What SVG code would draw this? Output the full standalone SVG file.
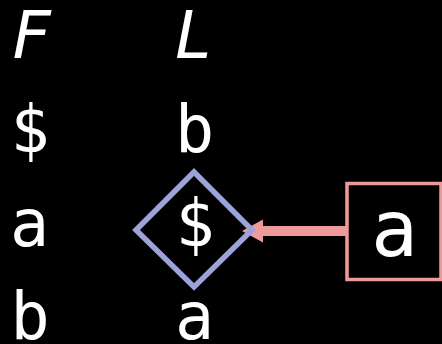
<svg xmlns="http://www.w3.org/2000/svg" width="442" height="344" viewBox="0 0 442 344">
<style>
.t{font-family:"DejaVu Sans Mono",monospace;font-size:65px;fill:#ffffff;text-anchor:middle}
.i{font-style:italic}
</style>
<rect x="0" y="0" width="442" height="344" fill="#000000"/>
<g id="labels">
<text class="t i" x="31" y="58">F</text>
<text class="t i" x="194" y="58">L</text>
<text class="t" x="30" y="152">$</text>
<text class="t" x="194.5" y="152">b</text>
<text class="t" x="29.5" y="245.5">a</text>
<text class="t" x="30" y="339">b</text>
<text class="t" x="194.5" y="339">a</text>
</g>
<g id="connectors">
<line x1="347" y1="231" x2="262" y2="231" stroke="#ef9a9a" stroke-width="10"/>
<polygon points="242,231 263,219.5 263,242.5" fill="#ef9a9a"/>
</g>
<g id="node-diamond">
<polygon points="194,172 252,230 194,287 136,230" fill="none" stroke="#9ca3d9" stroke-width="5.5" stroke-linejoin="miter"/>
<text class="t" x="195" y="245.5">$</text>
</g>
<g id="node-box">
<rect x="347" y="183.5" width="94" height="96" fill="#000000" stroke="#ef9a9a" stroke-width="3.5"/>
<text class="t" x="394.5" y="256" style="font-size:78px">a</text>
</g>
</svg>
